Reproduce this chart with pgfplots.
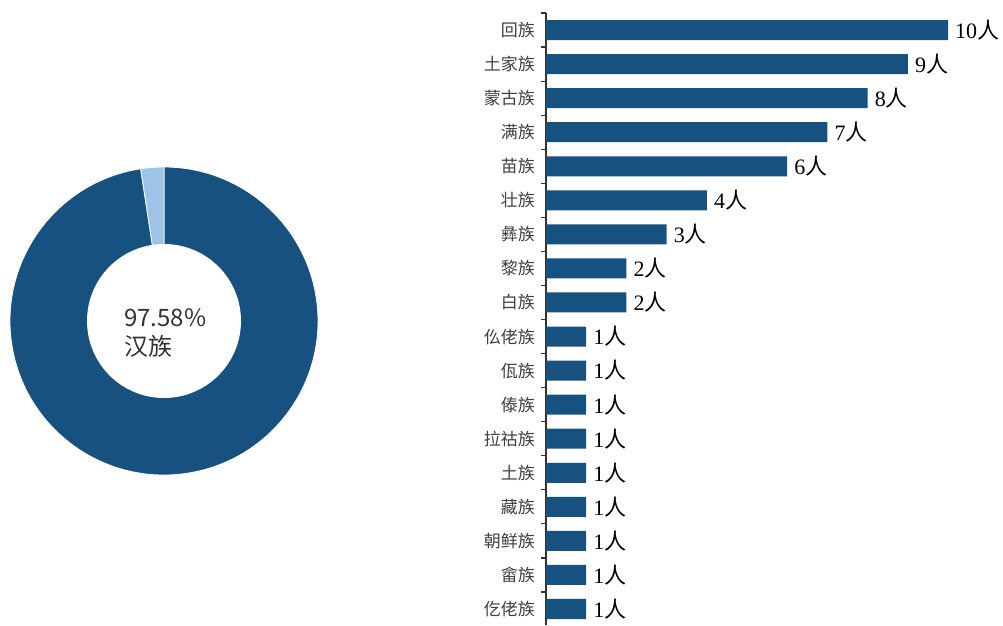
\documentclass[border=0pt]{standalone}
\usepackage{pgfplots}
\pgfplotsset{compat=1.18}
\usepackage{fontspec}
\setmainfont{Liberation Serif}
\newfontfamily\cjk{Noto Sans CJK SC}

\definecolor{barblue}{RGB}{22,81,128}
\definecolor{lightblue}{RGB}{157,195,230}
\definecolor{labelgray}{RGB}{64,64,64}
\definecolor{textgray}{RGB}{51,51,51}

% shares of the donut (percent)
\def\hanshare{97.58}
\def\othershare{2.42}

\begin{document}
\begin{tikzpicture}
% donut
\begin{axis}[
    at={(10pt,150pt)}, anchor=south west,
    scale only axis, width=308pt, height=308pt,
    xmin=-1, xmax=1, ymin=-1, ymax=1,
    hide axis, clip=false
]
\pgfmathsetmacro\endang{90+3.6*\othershare}
\fill[barblue, draw=white, line width=0.8pt] (axis cs:0,0) -- ++(\endang:154pt)
    arc[start angle=\endang, end angle=450, radius=154pt] -- cycle;
\fill[lightblue, draw=white, line width=0.8pt] (axis cs:0,0) -- ++(90:154pt)
    arc[start angle=90, end angle=\endang, radius=154pt] -- cycle;
\fill[white] (axis cs:0,0) circle[radius=77pt];
\node[anchor=west, align=left, inner sep=0pt, text=textgray,
      font=\cjk\fontsize{24}{29}\selectfont]
    at ([xshift=-40pt,yshift=-12pt]axis cs:0,0) {\hanshare\%\\汉族};
\end{axis}

% bars
\begin{axis}[
    at={(546pt,0pt)}, anchor=south west,
    scale only axis, width=442.2pt, height=612pt,
    xbar, bar width=20pt,
    xmin=0, xmax=11, ymin=-0.47, ymax=17.5,
    axis x line=none, axis y line*=left,
    axis line style={draw=textgray, line width=1.2pt},
    ytick={0,...,17},
    yticklabels={仡佬族,畲族,朝鲜族,藏族,土族,拉祜族,傣族,佤族,仫佬族,白族,黎族,彝族,壮族,苗族,满族,蒙古族,土家族,回族},
    major tick length=0pt,
    yticklabel style={font=\cjk\fontsize{17}{17}\selectfont, text=labelgray, inner sep=0pt, xshift=-11pt},
    extra y ticks={-0.5,0.5,...,17.5},
    extra y tick labels={},
    extra y tick style={major tick length=5pt, tick align=outside, tick style={draw=textgray, line width=1.2pt}},
    point meta=x,
    /pgf/number format/assume math mode=true,
    nodes near coords={\pgfmathprintnumber{\pgfplotspointmeta}{\cjk 人}},
    nodes near coords style={anchor=west, inner sep=0pt, xshift=7pt, text=black, font=\fontsize{22}{22}\selectfont},
    clip=false
]
\addplot[fill=barblue, draw=none] coordinates {
  (10,17) (9,16) (8,15) (7,14) (6,13) (4,12) (3,11) (2,10) (2,9)
  (1,8) (1,7) (1,6) (1,5) (1,4) (1,3) (1,2) (1,1) (1,0)
};
\end{axis}
\pgfresetboundingbox
\useasboundingbox (0,0) rectangle (1003pt,625pt);
\end{tikzpicture}
\end{document}
